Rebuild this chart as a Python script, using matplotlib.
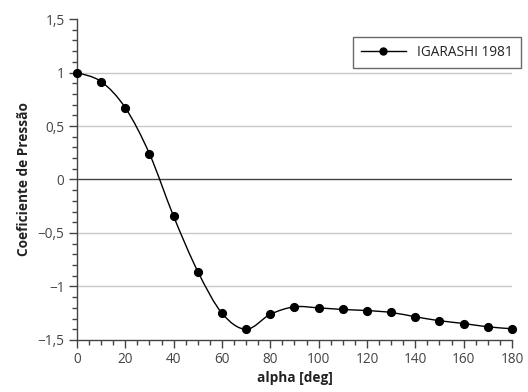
import matplotlib
matplotlib.use("Agg")
import matplotlib.pyplot as plt
import numpy as np
from matplotlib.path import Path
from matplotlib.patches import PathPatch
from matplotlib.lines import Line2D
from matplotlib.ticker import MultipleLocator, FuncFormatter

plt.rcParams['font.family'] = ['Open Sans', 'DejaVu Sans']

# Cp x alpha (IGARASHI 1981)
alpha = [0, 10, 20, 30, 40, 50, 60, 70, 80, 90, 100, 110, 120, 130, 140, 150, 160, 170, 180]
cp = [1.0, 0.915, 0.67, 0.24, -0.345, -0.86, -1.25, -1.40, -1.26, -1.19, -1.20, -1.215,
      -1.225, -1.243, -1.283, -1.32, -1.346, -1.377, -1.395]

fig = plt.figure(figsize=(5.28, 3.92), dpi=100)
ax = fig.add_axes([0.1458, 0.1327, 0.8239, 0.8188])

# curva suavizada (bezier cardinal entre os pontos)
x = np.array(alpha, float)
y = np.array(cp, float)
verts = [(x[0], y[0])]
codes = [Path.MOVETO]
t = 1.0 / 6.0
for i in range(len(x) - 1):
    p0 = (x[i - 1], y[i - 1]) if i > 0 else (x[i], y[i])
    p3 = (x[i + 2], y[i + 2]) if i + 2 < len(x) else (x[i + 1], y[i + 1])
    c1 = (x[i] + (x[i + 1] - p0[0]) * t, y[i] + (y[i + 1] - p0[1]) * t)
    c2 = (x[i + 1] - (p3[0] - x[i]) * t, y[i + 1] - (p3[1] - y[i]) * t)
    verts += [c1, c2, (x[i + 1], y[i + 1])]
    codes += [Path.CURVE4] * 3
ax.add_patch(PathPatch(Path(verts, codes), fill=False, color='black', lw=1.0, zorder=3))
ax.plot(alpha, cp, 'o', color='black', ms=5.6, zorder=4, clip_on=False)

ax.set_xlim(0, 180)
ax.set_ylim(-1.5, 1.5)
ax.xaxis.set_major_locator(MultipleLocator(20))
ax.xaxis.set_minor_locator(MultipleLocator(5))
ax.yaxis.set_major_locator(MultipleLocator(0.5))
ax.yaxis.set_minor_locator(MultipleLocator(0.1))

def fmt(v, pos):
    s = ('%g' % round(v, 2)).replace('.', ',')
    return s.replace('-', '\u2212')

ax.yaxis.set_major_formatter(FuncFormatter(fmt))

for v in [-1, -0.5, 0.5, 1]:
    ax.axhline(v, color='#c8c8c8', lw=1.0, zorder=1)
ax.axhline(0, color='#444444', lw=1.0, zorder=2)

for s in ['top', 'right']:
    ax.spines[s].set_visible(False)
for s in ['left', 'bottom']:
    ax.spines[s].set_color('#444444')
    ax.spines[s].set_linewidth(1.0)

ax.tick_params(which='major', direction='out', length=6, width=1, color='#444444',
               labelsize=9.8, labelcolor='#444444', pad=3)
ax.tick_params(which='minor', direction='out', length=3.5, width=1, color='#444444')

ax.set_xlabel('alpha [deg]', fontsize=9.8, fontweight='bold', color='#222222', labelpad=2.5)
ax.set_ylabel('Coeficiente de Pressão', fontsize=9.8, fontweight='bold', color='#222222', labelpad=5)

handle = Line2D([], [], color='black', lw=1.0, marker='o', ms=5)
leg = ax.legend([handle], ['IGARASHI 1981'], loc='upper right', bbox_to_anchor=(1.02, 0.945),
                fontsize=9.8, frameon=True, fancybox=False, handlelength=3.3,
                borderpad=0.6, handletextpad=0.8, borderaxespad=0)
leg.get_frame().set_edgecolor('#444444')
leg.get_frame().set_linewidth(1.0)
for txt in leg.get_texts():
    txt.set_color('#222222')

fig.savefig('out.png', dpi=100)
